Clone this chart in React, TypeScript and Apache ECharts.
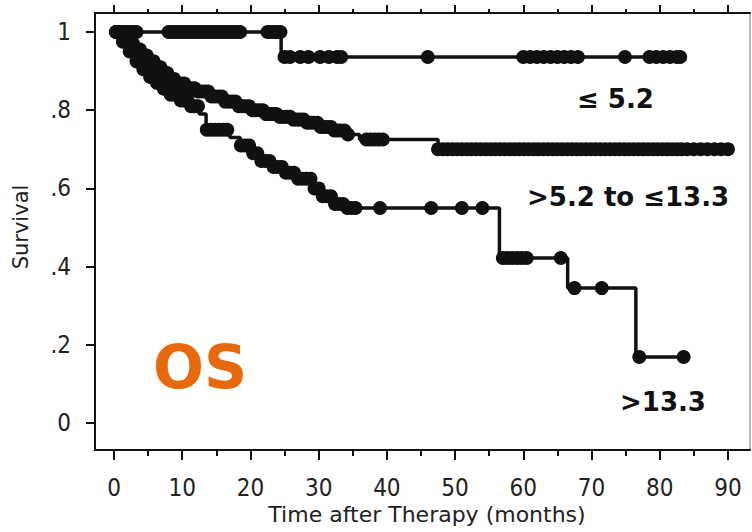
import React, { useEffect, useRef } from "react";
import * as echarts from "echarts";

// ---- axis ticks ----
const xTickValues = [0, 10, 20, 30, 40, 50, 60, 70, 80, 90];
const xMinorTicks = [5, 15, 25, 35, 45, 55, 65, 75, 85];
const yTickValues = [0, 0.2, 0.4, 0.6, 0.8, 1];

// ---- group "<= 5.2" ----
const aTimes = [0, 24.5];
const aSurv = [1, 0.936];
const aEnd = 83;
const aCensor = [0.3, 0.8, 1.3, 1.8, 2.3, 2.8, 3.3,
  8, 8.5, 9, 9.5, 10, 10.5, 11, 11.5, 12, 12.5, 13, 13.5, 14, 14.5, 15, 15.5, 16, 16.5, 17, 17.5, 18, 18.5,
  22.5, 23, 23.5, 24, 24.4,
  25, 25.8, 27.3, 28.5, 30.2, 31.5, 32.7, 33.3,
  46, 60, 61, 62, 63, 64, 65, 66, 67, 68, 74.9, 78.5, 79.5, 80.5, 81.5, 82.5, 83];

// ---- group ">5.2 to <=13.3" ----
const bTimes = [0, 1, 2, 3, 4, 5, 6, 7, 8, 9, 10.5, 12, 14, 16, 18, 20, 22, 24, 26, 28, 30, 32, 34, 36, 47.5];
const bSurv = [1, 0.985, 0.97, 0.955, 0.94, 0.925, 0.91, 0.895, 0.88, 0.868, 0.856, 0.848, 0.835, 0.822, 0.81, 0.8, 0.79, 0.783, 0.776, 0.768, 0.757, 0.748, 0.738, 0.725, 0.7];
const bEnd = 90;
const bCensor = [0.3, 0.8, 1.3, 1.8, 2.3, 2.8, 3.3, 3.8, 4.3, 4.8, 5.3, 5.8, 6.3, 6.8, 7.3, 7.8, 8.3, 8.8, 9.3, 9.8,
  10.3, 10.8, 11.3, 11.8, 12.3, 12.8, 13.3, 13.8, 14.3, 14.8, 15.3, 15.8, 16.3, 16.8, 17.3, 17.8, 18.3, 18.8,
  19.3, 19.8, 20.3, 20.8, 21.3, 21.8, 22.3, 22.8, 23.3, 23.8, 24.3, 24.8, 25.3, 25.8, 26.3, 26.8, 27.3, 27.8,
  28.3, 28.8, 29.3, 29.8, 30.3, 30.8, 31.3, 31.8, 32.3, 32.8, 33.3, 33.8, 34.3,
  37, 37.6, 38.2, 38.8, 39.4,
  47.5, 48.2, 48.9, 49.6, 50.3, 51, 51.7, 52.4, 53.1, 53.8, 54.5, 55.2, 55.9, 56.6, 57.3, 58, 58.7, 59.4,
  60.1, 60.8, 61.5, 62.2, 62.9, 63.6, 64.3, 65, 65.7, 66.4, 67.1, 67.8, 68.5, 69.2, 69.9, 70.6, 71.3, 72,
  72.7, 73.4, 74.1, 74.8, 75.5, 76.2, 76.9, 77.6, 78.3, 79, 79.7, 80.4, 81.1, 81.8, 82.5, 83.2, 84, 85,
  86, 87, 88, 89, 90];

// ---- group ">13.3" ----
const cTimes = [0, 1, 2, 3, 4, 5, 6, 7, 8, 9.5, 11, 12.5, 13.5, 17, 18.5, 20, 21.5, 23, 25, 27, 29, 30.5, 32, 34, 56.5, 66.5, 76.5];
const cSurv = [1, 0.975, 0.95, 0.925, 0.905, 0.885, 0.87, 0.855, 0.84, 0.825, 0.81, 0.79, 0.75, 0.73, 0.71, 0.69, 0.67, 0.655, 0.64, 0.625, 0.6, 0.58, 0.56, 0.55, 0.422, 0.345, 0.169];
const cEnd = 83.5;
const cCensor = [0.3, 0.8, 1.3, 1.8, 2.3, 2.8, 3.3, 3.8, 4.3, 4.8, 5.3, 5.8, 6.3, 6.8, 7.3, 7.8, 8.3, 8.8, 9.3, 9.8,
  10.3, 10.8, 11.3, 11.8, 12.3, 13.6, 14.2, 14.8, 15.4, 16, 16.6, 18.6, 19.2, 19.8, 20.4, 21, 21.6, 22.2,
  22.8, 23.4, 24, 24.6, 25.2, 25.8, 26.4, 27, 27.6, 28.2, 28.8, 29.4, 30, 30.6, 31.2, 31.8, 32.4, 33, 33.6,
  34.2, 34.8, 35.4, 39, 46.5, 51, 54,
  57, 57.7, 58.4, 59.1, 59.8, 60.5, 65.5, 67.5, 71.5, 77, 83.5];

// ---- texts ----
const curveLabels = ["\u2264 5.2", ">5.2 to \u226413.3", ">13.3"];
const panelTitle = "OS";
const xTitle = "Time after Therapy (months)";
const yTitle = "Survival";

function stepData(times: number[], surv: number[], end: number) {
  const d = times.map((t, i) => [t, surv[i]]);
  d.push([end, surv[surv.length - 1]]);
  return d;
}
function survAt(times: number[], surv: number[], t: number) {
  let s = surv[0];
  for (let i = 0; i < times.length; i++) if (times[i] <= t) s = surv[i];
  return s;
}
function censorData(times: number[], surv: number[], cens: number[]) {
  return cens.map((t) => [t, survAt(times, surv, t)]);
}

const tickFont = "'Liberation Sans Narrow', 'DejaVu Sans Condensed', 'Liberation Sans', Arial, sans-serif";
const INK = "#111";

function groupSeries(times: number[], surv: number[], end: number, cens: number[]) {
  return [
    {
      type: "line",
      step: "end",
      data: stepData(times, surv, end),
      showSymbol: false,
      lineStyle: { color: INK, width: 3.5 },
      silent: true,
    },
    {
      type: "scatter",
      data: censorData(times, surv, cens),
      symbol: "circle",
      symbolSize: 14,
      itemStyle: { color: INK, opacity: 1 },
      silent: true,
    },
  ];
}

export default function App() {
  const ref = useRef<HTMLDivElement>(null);
  useEffect(() => {
    if (!ref.current) return;
    const chart = echarts.init(ref.current, null, { renderer: "svg" });
    const X_MIN = -2.785, X_MAX = 93.23, Y_MIN = -0.069, Y_MAX = 1.0486;
    const baseX = {
      type: "value",
      min: X_MIN,
      max: X_MAX,
      splitLine: { show: false },
      axisLine: { show: false, onZero: false },
      axisLabel: { show: false },
    };
    chart.setOption({
      animation: false,
      backgroundColor: "#fff",
      grid: { left: 95, top: 13, width: 655, height: 437, containLabel: false },
      xAxis: [
        {
          ...baseX,
          position: "bottom",
          axisLine: { show: true, onZero: false, lineStyle: { color: INK, width: 2 } },
          axisTick: { show: true, customValues: xTickValues, length: 10, lineStyle: { color: INK, width: 2 } },
          axisLabel: {
            show: true,
            customValues: xTickValues,
            margin: 26,
            fontFamily: tickFont,
            fontSize: 24,
            color: "#222",
          },
        },
        {
          ...baseX,
          position: "bottom",
          axisTick: { show: true, customValues: xMinorTicks, length: 6, lineStyle: { color: INK, width: 2 } },
        },
        {
          ...baseX,
          position: "top",
          axisLine: { show: true, onZero: false, lineStyle: { color: INK, width: 2 } },
          axisTick: { show: true, customValues: xTickValues, length: 8, lineStyle: { color: INK, width: 2 } },
        },
        {
          ...baseX,
          position: "top",
          axisTick: { show: true, customValues: xMinorTicks, length: 4, lineStyle: { color: INK, width: 2 } },
        },
      ],
      yAxis: [
        {
          type: "value",
          min: Y_MIN,
          max: Y_MAX,
          position: "left",
          splitLine: { show: false },
          axisLine: { show: true, onZero: false, lineStyle: { color: INK, width: 2 } },
          axisTick: { show: true, customValues: yTickValues, length: 9, lineStyle: { color: INK, width: 2 } },
          axisLabel: {
            show: true,
            customValues: yTickValues,
            margin: 24,
            fontFamily: tickFont,
            fontSize: 24,
            color: "#222",
            formatter: (v: number) => (v === 0 ? "0" : v === 1 ? "1" : v.toFixed(1).replace(/^0/, "")),
          },
        },
        {
          type: "value",
          min: Y_MIN,
          max: Y_MAX,
          position: "right",
          splitLine: { show: false },
          axisLine: { show: true, onZero: false, lineStyle: { color: "#bbb", width: 2 } },
          axisTick: { show: false },
          axisLabel: { show: false },
        },
      ],
      series: [
        ...groupSeries(aTimes, aSurv, aEnd, aCensor),
        ...groupSeries(bTimes, bSurv, bEnd, bCensor),
        ...groupSeries(cTimes, cSurv, cEnd, cCensor),
      ],
      graphic: [
        {
          type: "text",
          x: 577,
          y: 99,
          style: { text: curveLabels[0], font: "bold 26px 'DejaVu Sans'", fill: INK, textAlign: "left", textVerticalAlign: "middle" },
        },
        {
          type: "text",
          x: 527,
          y: 197,
          style: { text: curveLabels[1], font: "bold 26px 'DejaVu Sans'", fill: INK, textAlign: "left", textVerticalAlign: "middle" },
        },
        {
          type: "text",
          x: 620,
          y: 402,
          style: { text: curveLabels[2], font: "bold 26px 'DejaVu Sans'", fill: INK, textAlign: "left", textVerticalAlign: "middle" },
        },
        {
          type: "text",
          x: 200,
          y: 367,
          style: { text: panelTitle, font: "bold 60px 'DejaVu Sans'", fill: "#E8680C", textAlign: "center", textVerticalAlign: "middle" },
        },
        {
          type: "text",
          x: 427,
          y: 514,
          style: { text: xTitle, font: "22px 'DejaVu Sans'", fill: "#222", textAlign: "center", textVerticalAlign: "middle" },
        },
        {
          type: "text",
          x: 21,
          y: 227,
          rotation: Math.PI / 2,
          style: { text: yTitle, font: "21px 'DejaVu Sans'", fill: "#222", textAlign: "center", textVerticalAlign: "middle" },
        },
      ],
    });
    return () => chart.dispose();
  }, []);
  return <div ref={ref} style={{ width: 752, height: 532, position: "absolute", left: 0, top: 0 }} />;
}
